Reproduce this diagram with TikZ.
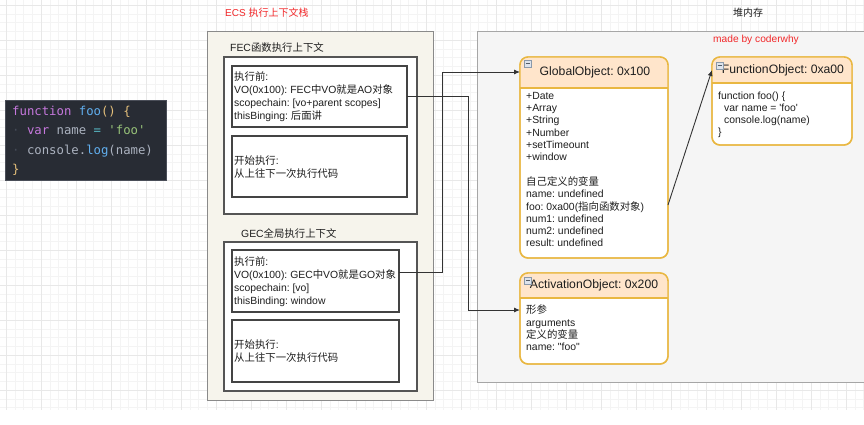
\documentclass[tikz,border=0pt]{standalone}
\usepackage{fontspec}
\newfontfamily\lsans{Liberation Sans}
\newfontfamily\cjk{Noto Sans CJK SC}
\newfontfamily\codefont{DejaVu Sans Mono}
\usetikzlibrary{arrows.meta}
\frenchspacing
\newcommand\zh[1]{{\cjk #1}}
\definecolor{ecsfill}{HTML}{F6F4EC}
\definecolor{ecsborder}{HTML}{8A8A8A}
\definecolor{ctxborder}{HTML}{555555}
\definecolor{innerborder}{HTML}{444444}
\definecolor{heapfill}{HTML}{F5F5F5}
\definecolor{heapborder}{HTML}{A6A6A6}
\definecolor{objborder}{HTML}{E9B741}
\definecolor{hdrfill}{HTML}{FFE5CB}
\definecolor{redlbl}{HTML}{F2282A}
\definecolor{textc}{HTML}{1E1E1E}
\definecolor{connc}{HTML}{333333}
\definecolor{gridmajc}{HTML}{E8E8E8}
\definecolor{gridminc}{HTML}{F4F4F4}
\definecolor{codebg}{HTML}{282C34}
\definecolor{codeborder}{HTML}{4A4E58}
\definecolor{kw}{HTML}{C678DD}
\definecolor{fn}{HTML}{61AFEF}
\definecolor{gold}{HTML}{E5C07B}
\definecolor{str}{HTML}{98C379}
\definecolor{op}{HTML}{56B6C2}
\definecolor{fg}{HTML}{ABB2BF}
\definecolor{ws}{HTML}{454B57}
\definecolor{iconfill}{HTML}{DDE3EC}
\definecolor{icondraw}{HTML}{8A99AA}
\begin{document}
\begin{tikzpicture}[x=1pt,y=-1pt,
  base/.style={rectangle, anchor=north west, inner sep=0pt, outer sep=0pt},
  ecsbox/.style={base, draw=ecsborder, fill=ecsfill, line width=1pt},
  ctxbox/.style={base, draw=ctxborder, fill=white, line width=1.3pt},
  innerbox/.style={base, draw=innerborder, fill=white, line width=1.3pt},
  heapbox/.style={base, draw=heapborder, fill=heapfill, line width=1pt},
  objbox/.style={base, draw=objborder, fill=white, line width=1.4pt, rounded corners=8pt},
  objline/.style={draw=objborder, line width=1.4pt},
  codebox/.style={base, draw=codeborder, fill=codebg, line width=0.8pt},
  txt/.style={font=\lsans\fontsize{10.4}{13}\selectfont, align=left, anchor=north west, inner sep=0pt, text=textc},
  objtxt/.style={font=\lsans\fontsize{10.4}{12.3}\selectfont, align=left, anchor=north west, inner sep=0pt, text=textc},
  title/.style={font=\lsans\fontsize{12.2}{14}\selectfont, inner sep=0pt, text=textc},
  lbl/.style={font=\lsans\fontsize{10.4}{13}\selectfont, anchor=west, inner sep=0pt, text=textc},
  codetxt/.style={font=\codefont\fontsize{12.3}{15}\selectfont, anchor=base west, inner sep=0pt, text=fg},
  icon/.style={draw=icondraw, fill=iconfill, minimum size=7pt, inner sep=0pt, anchor=north west, line width=0.4pt,
    path picture={\draw[icondraw!60!black, line width=0.6pt] ([xshift=1.5pt]path picture bounding box.west) -- ([xshift=-1.5pt]path picture bounding box.east);}},
  conn/.style={draw=connc, line width=0.9pt, -{Latex[length=6pt,width=5pt]}},
  gridmaj/.style={draw=gridmajc, line width=0.6pt},
  gridmin/.style={draw=gridminc, line width=0.4pt}]
\useasboundingbox (0,0) rectangle (864,424);
\clip (0,0) rectangle (864,424);
\fill[white] (0,0) rectangle (864,424);
% grid
\foreach \i in {-1,...,98} { \draw[gridmin] ({6+8.75*\i},0) -- ({6+8.75*\i},410); }
\foreach \j in {-1,...,46} { \draw[gridmin] (0,{5+8.75*\j}) -- (864,{5+8.75*\j}); }
\foreach \i in {0,...,24} { \draw[gridmaj] ({6+35*\i},0) -- ({6+35*\i},410); }
\foreach \j in {0,...,11} { \draw[gridmaj] (0,{5+35*\j}) -- (864,{5+35*\j}); }

% code box
\node[codebox, minimum width=161pt, minimum height=80pt] (code) at (5,100) {};
\node[codetxt] (c1) at (12,115) {{\color{kw}function} {\color{fn}foo}{\color{gold}()} {\color{gold}\{}};
\node[codetxt] (c2) at (12,134.5) {{\color{ws}·} {\color{kw}var} {\color{fg}name} {\color{op}=} {\color{str}'foo'}};
\node[codetxt] (c3) at (12,154) {{\color{ws}·} {\color{fg}console.}{\color{fn}log}{\color{fg}(name)}};
\node[codetxt] (c4) at (12,173.5) {{\color{gold}\}}};

% ECS stack
\node[lbl, text=redlbl, font=\lsans\fontsize{10}{12}\selectfont] (ecsL) at (225,13) {ECS \zh{执行上下文栈}};
\node[ecsbox, minimum width=226pt, minimum height=369pt] (ecs) at (207,31) {};
\node[lbl] (fecL) at (230,48) {FEC\zh{函数执行上下文}};
\node[ctxbox, minimum width=193pt, minimum height=157pt] (fec) at (224,57) {};
\node[innerbox, minimum width=175pt, minimum height=61pt] (fecA) at (232,66) {};
\node[innerbox, minimum width=175pt, minimum height=61pt] (fecB) at (232,136) {};
\node[txt] (fecAt) at (234,72) {\zh{执行前}:\\ VO(0x100): FEC\zh{中}VO\zh{就是}AO\zh{对象}\\ scopechain: [vo+parent scopes]\\ thisBinging: \zh{后面讲}};
\node[txt] (fecBt) at (234,156) {\zh{开始执行}:\\ \zh{从上往下一次执行代码}};

\node[lbl] (gecL) at (241,233) {GEC\zh{全局执行上下文}};
\node[ctxbox, minimum width=193pt, minimum height=149pt] (gec) at (224,242) {};
\node[innerbox, minimum width=167pt, minimum height=62pt] (gecA) at (232,250) {};
\node[innerbox, minimum width=167pt, minimum height=62pt] (gecB) at (232,320) {};
\node[txt] (gecAt) at (234,257) {\zh{执行前}:\\ VO(0x100): GEC\zh{中}VO\zh{就是}GO\zh{对象}\\ scopechain: [vo]\\ thisBinding: window};
\node[txt] (gecBt) at (234,340) {\zh{开始执行}:\\ \zh{从上往下一次执行代码}};

% heap
\node[lbl, font=\lsans\fontsize{10}{12}\selectfont] (heapL) at (733,13) {\zh{堆内存}};
\node[heapbox, minimum width=400pt, minimum height=351pt] (heap) at (477,31) {};
\node[lbl, text=redlbl, font=\lsans\fontsize{10.2}{12}\selectfont] (made) at (713,40) {made by coderwhy};

% GlobalObject
\node[objbox, minimum width=148pt, minimum height=201pt] (go) at (520,57) {};
\begin{scope}
\clip (go.north west) rectangle ([yshift=-31pt]go.north east);
\fill[hdrfill, rounded corners=8pt] (go.north west) rectangle (go.south east);
\end{scope}
\draw[objline] ([yshift=-31pt]go.north west) -- ([yshift=-31pt]go.north east);
\draw[objline, rounded corners=8pt] (go.north west) rectangle (go.south east);
\node[title] (goT) at (595,72.5) {GlobalObject: 0x100};
\node[icon] (goI) at ([xshift=4pt,yshift=-3pt]go.north west) {};
\node[objtxt] (goB) at (526,92) {+Date\\ +Array\\ +String\\ +Number\\ +setTimeount\\ +window\\[12.3pt] \zh{自己定义的变量}\\ name: undefined\\ foo: 0xa00(\zh{指向函数对象})\\ num1: undefined\\ num2: undefined\\ result: undefined};

% ActivationObject
\node[objbox, minimum width=148pt, minimum height=91pt] (ao) at (520,273) {};
\begin{scope}
\clip (ao.north west) rectangle ([yshift=-25pt]ao.north east);
\fill[hdrfill, rounded corners=8pt] (ao.north west) rectangle (ao.south east);
\end{scope}
\draw[objline] ([yshift=-25pt]ao.north west) -- ([yshift=-25pt]ao.north east);
\draw[objline, rounded corners=8pt] (ao.north west) rectangle (ao.south east);
\node[title] (aoT) at (594,285.5) {ActivationObject: 0x200};
\node[icon] (aoI) at ([xshift=4pt,yshift=-4pt]ao.north west) {};
\node[objtxt] (aoB) at (526,305) {\zh{形参}\\ arguments\\ \zh{定义的变量}\\ name: "foo"};

% FunctionObject
\node[objbox, minimum width=140pt, minimum height=88pt] (fo) at (712,57) {};
\begin{scope}
\clip (fo.north west) rectangle ([yshift=-26pt]fo.north east);
\fill[hdrfill, rounded corners=8pt] (fo.north west) rectangle (fo.south east);
\end{scope}
\draw[objline] ([yshift=-26pt]fo.north west) -- ([yshift=-26pt]fo.north east);
\draw[objline, rounded corners=8pt] (fo.north west) rectangle (fo.south east);
\node[title] (foT) at (783,70) {FunctionObject: 0xa00};
\node[icon] (foI) at ([xshift=4pt,yshift=-5pt]fo.north west) {};
\node[objtxt, font=\lsans\fontsize{10.4}{12}\selectfont] (foB) at (718,92) {function foo() \{\\ \hspace*{6pt}var name = 'foo'\\ \hspace*{6pt}console.log(name)\\ \}};

% connectors
\draw[conn] (fecA.east) -- ++(61,0) |- ([yshift=-37pt]ao.north west);
\draw[conn] ([yshift=9pt]gecA.east) -- ++(43,0) |- ([yshift=-15pt]go.north west);
\draw[conn] ([yshift=-148pt]go.north east) -- ([yshift=-13pt]fo.north west);
\end{tikzpicture}
\end{document}
